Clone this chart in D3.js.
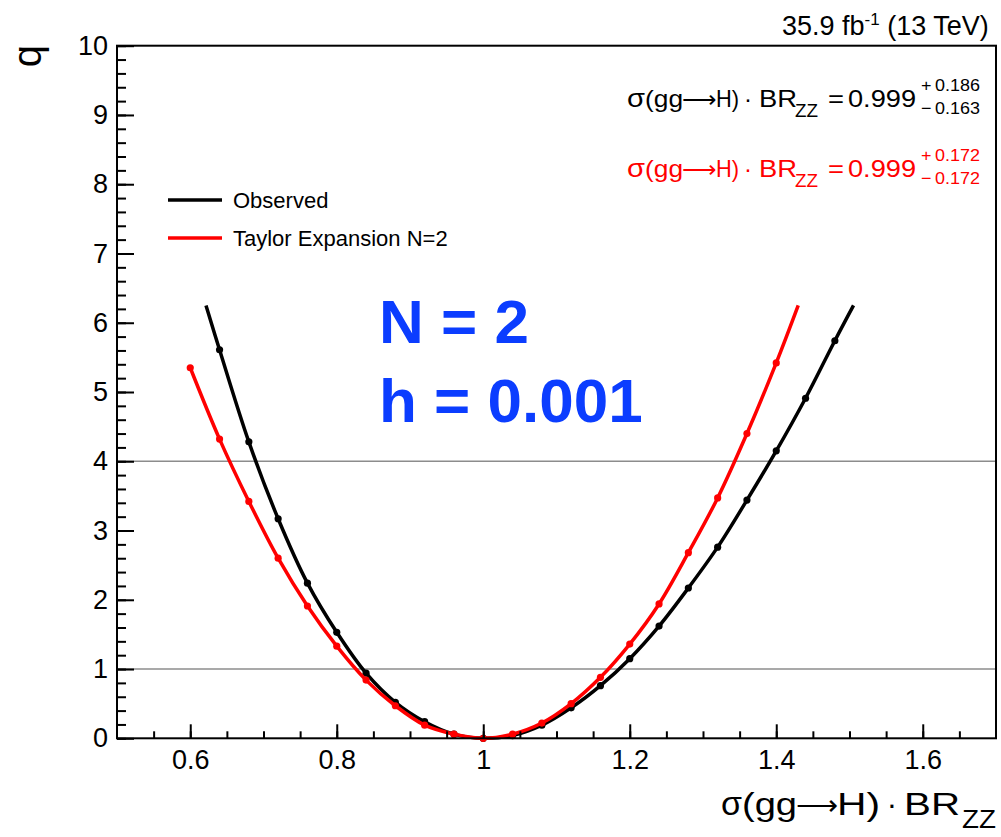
<!DOCTYPE html>
<html>
<head>
  <title>Likelihood scan</title>
  <style>
    body { margin: 0; background: #fff; }
    svg text { font-family: "Liberation Sans", Arial, sans-serif; }
  </style>
</head>
<body>
  <div id="chart"></div>

  <script src="https://d3js.org/d3.v7.min.js"></script>
  <script>
    // Observed scan (points every 0.04) and where the drawn curve stops
    const obsX = [0.64, 0.68, 0.72, 0.76, 0.80, 0.84, 0.88, 0.92, 0.96, 1.00, 1.04,
                  1.08, 1.12, 1.16, 1.20, 1.24, 1.28, 1.32, 1.36, 1.40, 1.44, 1.48];
    const obsQ = [5.61, 4.28, 3.17, 2.24, 1.53, 0.94, 0.52, 0.24, 0.06, 0.00, 0.04,
                  0.19, 0.44, 0.76, 1.15, 1.62, 2.17, 2.76, 3.44, 4.15, 4.91, 5.74];
    const obsEndX = [0.6215, 1.5055];
    const obsEndQ = [6.25, 6.25];

    // Taylor expansion N=2
    const taylorX = [0.60, 0.64, 0.68, 0.72, 0.76, 0.80, 0.84, 0.88, 0.92, 0.96, 1.00,
                     1.04, 1.08, 1.12, 1.16, 1.20, 1.24, 1.28, 1.32, 1.36, 1.40];
    const taylorQ = [5.35, 4.32, 3.42, 2.60, 1.91, 1.33, 0.84, 0.47, 0.19, 0.06, 0.00,
                     0.06, 0.22, 0.50, 0.88, 1.36, 1.94, 2.68, 3.47, 4.40, 5.42];
    const taylorEndX = [1.430];
    const taylorEndQ = [6.25];

    const refLines = [1, 4];
    const xTicks = [0.6, 0.8, 1, 1.2, 1.4, 1.6];
    const yTicks = [0, 1, 2, 3, 4, 5, 6, 7, 8, 9, 10];

    const W = 1001, H = 837;
    const padL = 117, padR = 996, padT = 45.7, padB = 738.3;

    const svg = d3.select("#chart").append("svg")
      .attr("width", W).attr("height", H);

    const x = d3.scaleLinear().domain([0.5, 1.7]).range([padL, padR]);
    const y = d3.scaleLinear().domain([0, 10]).range([padB, padT]);

    // reference lines
    svg.selectAll("line.ref")
      .data(refLines)
      .enter().append("line")
      .attr("class", "ref")
      .attr("x1", padL).attr("x2", padR)
      .attr("y1", d => y(d)).attr("y2", d => y(d))
      .attr("stroke", "#8c8c8c").attr("stroke-width", 1.5);

    // curves
    const line = d3.line()
      .x(d => x(d[0])).y(d => y(d[1]))
      .curve(d3.curveCatmullRom.alpha(0.5));

    const obsPts = obsX.map((v, i) => [v, obsQ[i]]);
    const obsCurve = [[obsEndX[0], obsEndQ[0]]].concat(obsPts, [[obsEndX[1], obsEndQ[1]]]);
    const tayPts = taylorX.map((v, i) => [v, taylorQ[i]]);
    const tayCurve = tayPts.concat([[taylorEndX[0], taylorEndQ[0]]]);

    svg.append("path").datum(obsCurve)
      .attr("d", line).attr("fill", "none")
      .attr("stroke", "#000").attr("stroke-width", 3.5);
    svg.selectAll("circle.obs").data(obsPts).enter().append("circle")
      .attr("class", "obs")
      .attr("cx", d => x(d[0])).attr("cy", d => y(d[1])).attr("r", 3.6)
      .attr("fill", "#000");

    svg.append("path").datum(tayCurve)
      .attr("d", line).attr("fill", "none")
      .attr("stroke", "#ff0000").attr("stroke-width", 3.5);
    svg.selectAll("circle.tay").data(tayPts).enter().append("circle")
      .attr("class", "tay")
      .attr("cx", d => x(d[0])).attr("cy", d => y(d[1])).attr("r", 3.6)
      .attr("fill", "#ff0000");

    // frame
    svg.append("rect")
      .attr("x", padL).attr("y", padT)
      .attr("width", padR - padL).attr("height", padB - padT)
      .attr("fill", "none").attr("stroke", "#000").attr("stroke-width", 2);

    // axes
    const yMinor = d3.range(0, 10.001, 0.2);
    const xMinor = d3.range(0.55, 1.7, 0.05);

    const gy = svg.append("g").attr("transform", `translate(${padL},0)`);
    gy.call(d3.axisLeft(y).tickValues(yMinor).tickSize(-9).tickFormat(""));
    gy.append("g").call(d3.axisLeft(y).tickValues(yTicks).tickSize(-17).tickPadding(9).tickFormat(d3.format("d")));

    const gx = svg.append("g").attr("transform", `translate(0,${padB})`);
    gx.call(d3.axisBottom(x).tickValues(xMinor).tickSize(-7).tickFormat(""));
    gx.append("g").call(d3.axisBottom(x).tickValues(xTicks).tickSize(-14).tickPadding(12).tickFormat(d3.format("~g")));

    [gx, gy].forEach(g => {
      g.selectAll(".domain").remove();
      g.selectAll(".tick line").attr("stroke", "#000").attr("stroke-width", 2);
      g.selectAll("text").attr("font-size", 27).attr("fill", "#000")
        .attr("font-family", "Liberation Sans, Arial, sans-serif");
    });

    // text helper
    function txt(str, px, py, size, opts = {}) {
      return svg.append("text")
        .attr("x", px).attr("y", py)
        .attr("font-size", size)
        .attr("fill", opts.color || "#000")
        .attr("text-anchor", opts.anchor || "start")
        .attr("font-family", opts.family || "Liberation Sans, Arial, sans-serif")
        .attr("font-weight", opts.weight || "normal")
        .text(str);
    }
    // text stretched to a given width
    function fit(str, x0, x1, py, size, color, family) {
      return txt(str, x0, py, size, { color, family })
        .attr("textLength", x1 - x0).attr("lengthAdjust", "spacingAndGlyphs");
    }

    // axis title q
    txt("q", 0, 0, 40).attr("text-anchor", "end")
      .attr("transform", "translate(41,45) rotate(-90)");

    // σ(gg→H) · BR_ZZ built from pieces; p = piece extents in px
    function formula(base, size, subSize, color, p) {
      const serif = "Liberation Serif, Times New Roman, serif";
      fit("\u03c3", p[0], p[1], base, size * 1.1, color, serif);
      fit("(gg", p[1], p[2], base, size, color);
      fit("\u27f6", p[2] - 1, p[3] + 1, base, size * 0.9, color, "DejaVu Sans, sans-serif");
      fit("H)", p[3], p[4], base, size, color);
      txt("\u00b7", p[5], base, size, { color, anchor: "middle" });
      fit("BR", p[6], p[7], base, size, color);
      fit("ZZ", p[8], p[9], base + size * 0.42, subSize, color);
    }

    // x title
    formula(815, 31, 26, "#000", [721, 742, 797, 837, 880, 892, 904, 960, 962, 996]);

    // luminosity label
    const lum = txt("35.9 fb", 782, 35, 27);
    lum.append("tspan").attr("font-size", 17).attr("dy", -10).text("-1");
    lum.append("tspan").attr("dy", 10).text(" (13 TeV)");

    // fit results
    function result(base, color, up, down) {
      formula(base, 24, 18, color, [627, 645, 683, 716, 739, 748, 759, 797, 795, 818]);
      fit("=", 828, 844, base, 24, color);
      fit("0.999", 848, 916, base, 24, color);
      fit("+\u2009" + up, 921, 980, base - 16, 17, color);
      fit("\u2212\u2009" + down, 921, 980, base + 7, 17, color);
    }
    result(107, "#000", "0.186", "0.163");
    result(177, "#ff0000", "0.172", "0.172");

    // legend
    const legend = [["Observed", "#000"], ["Taylor Expansion N=2", "#ff0000"]];
    legend.forEach((d, i) => {
      const ly = 200 + i * 38;
      svg.append("line").attr("x1", 168).attr("x2", 222)
        .attr("y1", ly).attr("y2", ly)
        .attr("stroke", d[1]).attr("stroke-width", 3.5);
      txt(d[0], 233, ly + 8, 22);
    });

    // big blue annotation
    const blue = "#0b3dff";
    txt("N = 2", 379, 343, 62, { color: blue, weight: "bold", family: "Open Sans, sans-serif" });
    txt("h = 0.001", 379, 422, 62, { color: blue, weight: "bold", family: "Open Sans, sans-serif" });
  </script>
</body>
</html>
